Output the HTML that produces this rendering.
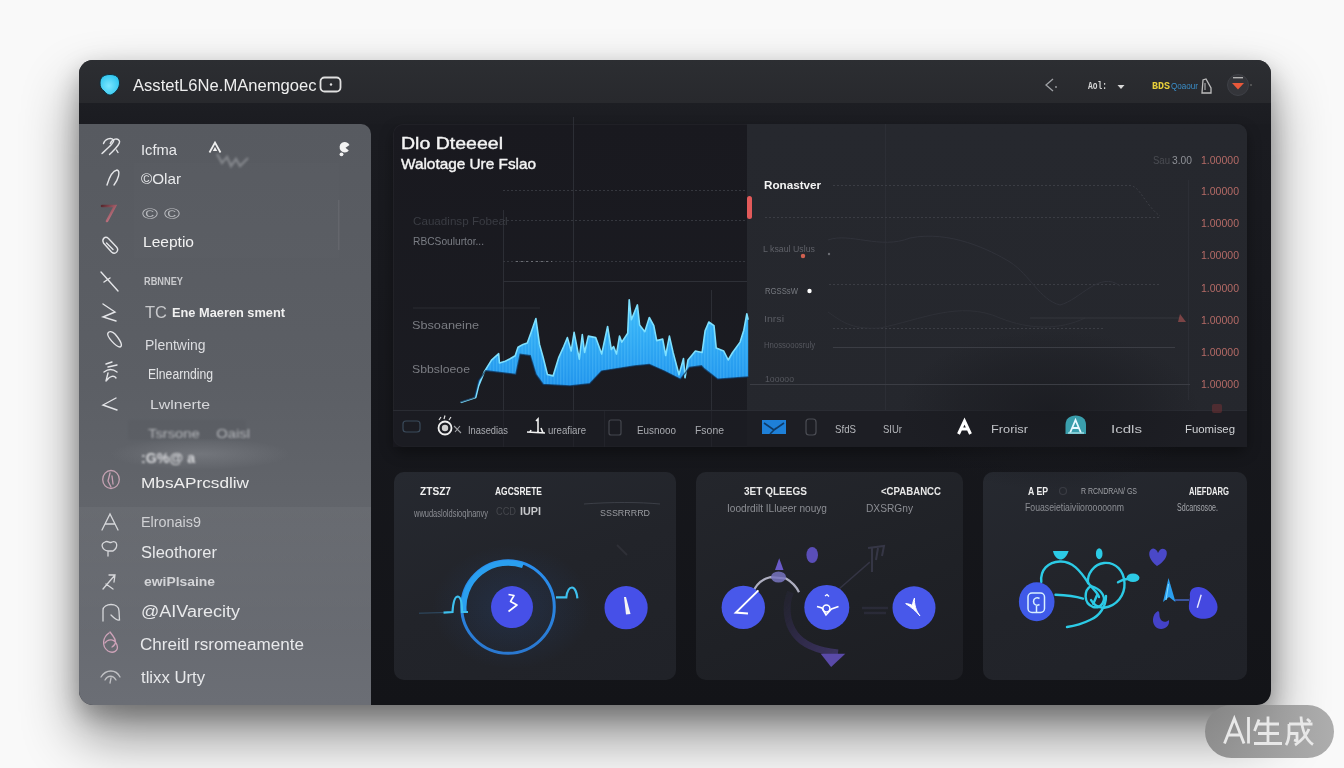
<!DOCTYPE html>
<html><head><meta charset="utf-8">
<style>
*{margin:0;padding:0;box-sizing:border-box}
html,body{width:1344px;height:768px;overflow:hidden;background:#f3f3f3;font-family:"Liberation Sans",sans-serif}
.abs{position:absolute}
#bg{left:0;top:0;width:1344px;height:768px;background:#f9f9f9}
#shadow{left:79px;top:60px;width:1192px;height:645px;border-radius:14px;box-shadow:0 30px 55px rgba(0,0,0,.45),0 10px 25px rgba(0,0,0,.25)}
#win{left:79px;top:60px;width:1192px;height:645px;border-radius:14px;background:linear-gradient(180deg,#1b1c21 0%,#17181d 45%,#131418 100%);overflow:hidden}
#title{left:0;top:0;width:1192px;height:43px;background:linear-gradient(180deg,#2c2e32,#28292d)}
#strip{left:0;top:43px;width:1192px;height:21px;background:linear-gradient(180deg,#1d1e23,#1b1c21)}
#side{left:0;top:64px;width:292px;height:581px;background:linear-gradient(180deg,#575a60 0%,#5c5f65 45%,#62656b 66%,#6b6e75 100%);border-top-right-radius:10px}
#side2{left:0;top:447px;width:292px;height:134px;background:linear-gradient(180deg,rgba(255,255,255,.04),rgba(255,255,255,0))}
.t{position:absolute;white-space:nowrap;transform-origin:0 50%}
#chart{left:314px;top:64px;width:854px;height:323px;border-radius:10px;box-shadow:0 6px 14px rgba(0,0,0,.35),inset 0 0 0 1px rgba(255,255,255,.03);background:linear-gradient(180deg,#19191f,#1b1c22);overflow:hidden}
#rpanel{left:668px;top:64px;width:500px;height:323px;border-radius:0 10px 10px 0;background:linear-gradient(180deg,#26282e 0%,#25272d 100%)}
.card{position:absolute;top:412px;height:208px;border-radius:10px;background:linear-gradient(160deg,#262930 0%,#22242a 50%,#202228 100%)}
#wm{left:1205px;top:705px;width:129px;height:53px;border-radius:27px;background:linear-gradient(90deg,rgba(135,135,135,.9),rgba(160,160,160,.85))}
</style></head><body>
<div id="bg" class="abs"></div>
<div id="shadow" class="abs"></div>
<div id="win" class="abs">
  <div id="title" class="abs"></div>
  <div id="strip" class="abs"></div>
  <div id="side" class="abs"></div>
  <div id="side2" class="abs"></div>
  <div id="chart" class="abs"></div>
  <div id="rpanel" class="abs"></div>
  <div class="card" style="left:315px;width:282px"></div>
  <div class="card" style="left:617px;width:267px;background:linear-gradient(160deg,#24262c 0%,#1f2126 60%,#1d1e23 100%)"></div>
  <div class="card" style="left:904px;width:264px"></div>
</div>
<svg class="abs" style="left:0;top:0" width="1344" height="768" viewBox="0 0 1344 768">
<defs>
<linearGradient id="blueg" x1="0" y1="0" x2="0" y2="1"><stop offset="0" stop-color="#3fc3ff"/><stop offset="1" stop-color="#1a8be0"/></linearGradient>
<linearGradient id="ringg" x1="0" y1="0" x2="1" y2="1"><stop offset="0" stop-color="#2aa8f0"/><stop offset="1" stop-color="#2f6fd8"/></linearGradient>
<radialGradient id="logog" cx=".45" cy=".55" r=".6"><stop offset="0" stop-color="#7ae6ff"/><stop offset="1" stop-color="#2cc4ee"/></radialGradient>
<radialGradient id="glow1" cx=".5" cy=".5" r=".5"><stop offset="0" stop-color="#2a6bd0" stop-opacity=".16"/><stop offset="1" stop-color="#2a6bd0" stop-opacity="0"/></radialGradient>
<linearGradient id="redg" x1="0" y1="0" x2="1" y2="1"><stop offset="0" stop-color="#5a2a30"/><stop offset="1" stop-color="#e08a9a"/></linearGradient>
<filter id="b1"><feGaussianBlur stdDeviation="0.5"/></filter>
<filter id="b12" x="-50%" y="-50%" width="200%" height="200%"><feGaussianBlur stdDeviation="1.3"/></filter>
<filter id="b2"><feGaussianBlur stdDeviation="1.5"/></filter>
<filter id="b6"><feGaussianBlur stdDeviation="6"/></filter>
</defs>

<!-- title bar -->
<path d="M100,83 C100,77 104,74.5 110,74.5 C116,74.5 119.5,77 119.5,83 C119.5,88 116,92.5 111,95 C108,95.5 106,93.5 104,91 C101,89 100,86.5 100,83 Z" fill="url(#logog)" stroke="#10303e" stroke-width="1"/>
<rect x="320.5" y="77.5" width="20" height="14" rx="4" fill="none" stroke="#e0e0e0" stroke-width="1.8"/>
<circle cx="331" cy="84.5" r="1.2" fill="#e0e0e0"/>
<path d="M1053,79 L1046,85 L1053,91" fill="none" stroke="#a0a2a6" stroke-width="1.3"/>
<circle cx="1056" cy="87" r="0.9" fill="#a0a2a6"/>
<path d="M1117.5,85 L1124.5,85 L1121,89 Z" fill="#d8d8d8"/>
<path d="M1202,93 L1203,80 L1206,79 L1211,88 L1211,93 Z" fill="none" stroke="#bdbdbd" stroke-width="1.3"/>
<path d="M1205,83 L1205,90" stroke="#bdbdbd" stroke-width="1"/>
<circle cx="1238" cy="85" r="10.5" fill="#34353a"/>
<circle cx="1238" cy="85" r="10.5" fill="none" stroke="#3e4046" stroke-width="1"/>
<path d="M1232,83 L1244,83 L1238,89.5 Z" fill="#e8583a"/>
<rect x="1233" y="77" width="10" height="1.4" fill="#b0b0b0"/>
<circle cx="1251" cy="85" r="0.9" fill="#666"/>
<!-- sidebar icons -->
<rect x="134" y="163" width="205" height="95" fill="#ffffff" opacity=".012"/>
<defs><radialGradient id="litblob" cx=".5" cy=".5" r=".5"><stop offset="0" stop-color="#8a8d93" stop-opacity=".45"/><stop offset="1" stop-color="#8a8d93" stop-opacity="0"/></radialGradient></defs>
<rect x="128" y="420" width="118" height="20" rx="4" fill="#4a4d53" opacity=".13" filter="url(#b12)"/>
<ellipse cx="200" cy="454" rx="90" ry="16" fill="url(#litblob)"/>
<g fill="none" stroke="#e4e5e8" stroke-width="1.4" stroke-linecap="round">
<path d="M103.5,143.5 C105,139 111,137 113.5,140 C115,142 108,148 102,153.5"/><path d="M110.3,143.5 C112,139 118,137 119.6,141.5 C120,145 114,150 109.5,154.5 M116.5,150 L118,152.5"/>
<path d="M107,185 C109,178 112,171 117,170 C121,171 118,180 114,185"/>
<path d="M103.5,243 C101.5,239 105,235.5 108.5,238.5 L116.5,247 C119.5,250.5 115.5,255.5 111.5,252 Z M106.5,243 L113,249.5"/>
<path d="M101,272 L118,291 M104,282 L110,278"/>
<path d="M103,304 L115,312 L103,317 L116,321"/>
<path d="M108,333 C106,336 116,347 120,347 C123,346 121,341 115,334 C112,331 109,331 108,333 Z"/>
<path d="M106,364 L112,362 M108,367 L117,365 M104,372 C108,369 113,369 117,372 M107,380 C110,376 114,375 116,378 M108,373 L106,381"/>
<path d="M116,398 L103,405 L117,410"/>
</g>
<path d="M102,206 L115,206 L107,221" fill="none" stroke="url(#redg)" stroke-width="2.6" stroke-linecap="round"/>
<g fill="none" stroke="#d6d7da" stroke-width="1.3" stroke-linecap="round">
<ellipse cx="111" cy="479.5" rx="8.3" ry="9" stroke="#c4a2b2"/>
<path d="M110,473 L108,481 L111,487 M112,476 L113,484" stroke="#c8a0b4"/>
<path d="M102,530 L110,514 L118,530 M105,524 L115,524"/>
<path d="M108,556 L108,551 C102,550 100,544 105,542 C108,540 110,544 112,542 C117,540 119,547 113,551 L108,551"/>
<path d="M103,589 L115,575 M109,575 L115,575 L114,582 M106,584 L113,589"/>
<path d="M103,621 L103,610 C103,603 119,602 119,611 L119.5,620 C117,621 114,618 111,615"/>
<path d="M109,633 C103,637 101,646 108,651 C113,654 119,651 117,645 C115,639 108,638 105,643 M110,632 L113,636 C116,640 117,644 112,647" stroke="#cda2b8"/>
<path d="M101,677 C106,669 116,669 120,677 M105,680 C108,675 113,675 116,680 M110,683 L111,678" stroke="#c0c1c4"/>
</g>
<g fill="none" stroke="#f0f0f0" stroke-width="1.5">
<path d="M209.5,152.5 L215,142.5 L220.5,152.5" stroke-width="1.8"/><path d="M212.8,151 L215,147 L217.2,151 Z" fill="#f0f0f0" stroke="none"/>
</g>
<path d="M217,154 L222,163 L227,157 L231,166 L236,159 L240,166 L248,158" fill="none" stroke="#c0c2c6" stroke-width="2.4" opacity=".4" filter="url(#b12)"/>
<path d="M349.5,145 A5.2,5.2 0 1 0 348.8,150.5 L345.5,147.8 Z" fill="#f2f2f2"/><circle cx="341.5" cy="154.3" r="1.9" fill="#f2f2f2"/>
<rect x="338" y="200" width="1.5" height="50" fill="#6a6d73" opacity=".6"/>

<!-- chart panel grid -->
<g stroke="#2c2e35" stroke-width="1">
<line x1="573.5" y1="117" x2="573.5" y2="447"/>
<line x1="604.5" y1="411" x2="604.5" y2="447"/>
<line x1="711.5" y1="290" x2="711.5" y2="447"/>
<line x1="503.5" y1="210" x2="503.5" y2="447"/>
<line x1="885.5" y1="124" x2="885.5" y2="447"/>
<line x1="1188.5" y1="180" x2="1188.5" y2="400"/>
</g>
<g stroke="#35373e" stroke-width="1" stroke-dasharray="2 2">
<line x1="503" y1="190.5" x2="747" y2="190.5"/>
<line x1="503" y1="220.5" x2="747" y2="220.5"/>
<line x1="503" y1="261.5" x2="747" y2="261.5"/>
</g>
<line x1="503" y1="281.5" x2="747" y2="281.5" stroke="#2e3037" stroke-width="1"/>
<line x1="516" y1="261.5" x2="552" y2="261.5" stroke="#6a6c72" stroke-width="1" stroke-dasharray="2 3"/>
<line x1="413" y1="308" x2="540" y2="308" stroke="#2a2c33" stroke-width="1"/>
<line x1="393" y1="410.5" x2="1247" y2="410.5" stroke="#2a2c33" stroke-width="1"/>
<rect x="393" y="411" width="354" height="36" fill="#1c1d23" opacity=".6"/>
<rect x="747" y="411" width="500" height="36" fill="#1d1e24"/>
<rect x="747" y="196" width="5" height="23" rx="2.5" fill="#e25a5a"/>

<!-- blue area chart -->
<defs>
<pattern id="stripes" width="3.2" height="10" patternUnits="userSpaceOnUse"><rect x="0" y="0" width="1.2" height="10" fill="#7fd8ff" opacity=".22"/></pattern>
<linearGradient id="blueg2" x1="0" y1="300" x2="0" y2="390" gradientUnits="userSpaceOnUse"><stop offset="0" stop-color="#3cbcfa"/><stop offset="1" stop-color="#1f92ec"/></linearGradient>
</defs>
<polygon points="460.7,402.4 475.8,397.4 478.6,385.9 484.4,371.6 491.5,360.1 498.7,353.7 499.4,363 504.4,361.6 510.1,358.7 515.2,355.8 518,347.3 523,344.4 527.3,343 530.9,332.9 535.9,318.6 539.5,344.4 543.1,357.3 547.4,374.5 553.1,375.9 558.8,357.3 563.7,346.5 567.4,337.6 571.2,351 574.1,332.4 579.3,359.2 582.3,334.6 584.6,352.5 588.3,336.1 595.7,337.6 601.7,354 607.6,326.5 611.3,349.5 613.6,346.5 616.5,354 619.5,336.1 621.8,342.1 627.7,333.2 629.2,299.7 631.4,319.8 637.4,304.9 639.6,325 644.8,331.7 649.3,317.5 653.8,325.7 656.7,340.6 662.7,339.1 665.7,355.5 669.4,336.1 673.1,352.5 679,374.8 683.5,358.5 685,377.8 688,360 695.4,351 702.1,352.5 705.1,330.9 708.8,322 714,325.7 716.2,348 723.7,351 728.2,360 732.6,352.5 740.1,342.1 743.8,330.2 746.8,313.8 748.2,319.8 748.2,377 717.7,379.3 704.3,368.9 701.4,365.9 689.5,367.4 680.5,379.3 664.2,371.1 649.3,364.4 634.4,365.9 601.7,371.1 589.8,383.8 570,385.9 543.1,384.5 535.9,374.5 530.2,355.8 520.2,354.4 515.9,374.5 485.8,370.9 478.6,380.2 474.3,397.4 460.7,401.7" fill="url(#blueg2)"/>
<polygon points="460.7,402.4 475.8,397.4 478.6,385.9 484.4,371.6 491.5,360.1 498.7,353.7 499.4,363 504.4,361.6 510.1,358.7 515.2,355.8 518,347.3 523,344.4 527.3,343 530.9,332.9 535.9,318.6 539.5,344.4 543.1,357.3 547.4,374.5 553.1,375.9 558.8,357.3 563.7,346.5 567.4,337.6 571.2,351 574.1,332.4 579.3,359.2 582.3,334.6 584.6,352.5 588.3,336.1 595.7,337.6 601.7,354 607.6,326.5 611.3,349.5 613.6,346.5 616.5,354 619.5,336.1 621.8,342.1 627.7,333.2 629.2,299.7 631.4,319.8 637.4,304.9 639.6,325 644.8,331.7 649.3,317.5 653.8,325.7 656.7,340.6 662.7,339.1 665.7,355.5 669.4,336.1 673.1,352.5 679,374.8 683.5,358.5 685,377.8 688,360 695.4,351 702.1,352.5 705.1,330.9 708.8,322 714,325.7 716.2,348 723.7,351 728.2,360 732.6,352.5 740.1,342.1 743.8,330.2 746.8,313.8 748.2,319.8 748.2,377 717.7,379.3 704.3,368.9 701.4,365.9 689.5,367.4 680.5,379.3 664.2,371.1 649.3,364.4 634.4,365.9 601.7,371.1 589.8,383.8 570,385.9 543.1,384.5 535.9,374.5 530.2,355.8 520.2,354.4 515.9,374.5 485.8,370.9 478.6,380.2 474.3,397.4 460.7,401.7" fill="url(#stripes)"/>
<polyline points="460.7,402.4 475.8,397.4 478.6,385.9 484.4,371.6 491.5,360.1 498.7,353.7 499.4,363 504.4,361.6 510.1,358.7 515.2,355.8 518,347.3 523,344.4 527.3,343 530.9,332.9 535.9,318.6 539.5,344.4 543.1,357.3 547.4,374.5 553.1,375.9 558.8,357.3 563.7,346.5 567.4,337.6 571.2,351 574.1,332.4 579.3,359.2 582.3,334.6 584.6,352.5 588.3,336.1 595.7,337.6 601.7,354 607.6,326.5 611.3,349.5 613.6,346.5 616.5,354 619.5,336.1 621.8,342.1 627.7,333.2 629.2,299.7 631.4,319.8 637.4,304.9 639.6,325 644.8,331.7 649.3,317.5 653.8,325.7 656.7,340.6 662.7,339.1 665.7,355.5 669.4,336.1 673.1,352.5 679,374.8 683.5,358.5 685,377.8 688,360 695.4,351 702.1,352.5 705.1,330.9 708.8,322 714,325.7 716.2,348 723.7,351 728.2,360 732.6,352.5 740.1,342.1 743.8,330.2 746.8,313.8 748.2,319.8" fill="none" stroke="#7ee0ff" stroke-width="1.6" stroke-linejoin="round"/>
<polyline points="748.2,377 717.7,379.3 704.3,368.9 701.4,365.9 689.5,367.4 680.5,379.3 664.2,371.1 649.3,364.4 634.4,365.9 601.7,371.1 589.8,383.8 570,385.9 543.1,384.5 535.9,374.5 530.2,355.8 520.2,354.4 515.9,374.5 485.8,370.9 478.6,380.2 474.3,397.4 460.7,401.7" fill="none" stroke="#0f2a48" stroke-width="1.5" opacity=".7"/>
<!-- right panel lines -->
<defs><radialGradient id="darkblob" cx=".5" cy=".5" r=".5"><stop offset="0" stop-color="#18191e" stop-opacity=".7"/><stop offset=".6" stop-color="#18191e" stop-opacity=".35"/><stop offset="1" stop-color="#18191e" stop-opacity="0"/></radialGradient></defs>
<ellipse cx="1050" cy="410" rx="150" ry="80" fill="url(#darkblob)"/>
<g stroke="#3b3d44" stroke-width="1" fill="none">
<path d="M833,185.5 L1130,185.5 C1140,186 1145,205 1160,216" stroke-dasharray="2 2"/>
<line x1="765" y1="217.5" x2="1160" y2="217.5" stroke-dasharray="2 2"/>
<line x1="829" y1="284.5" x2="1160" y2="284.5" stroke-dasharray="2 2"/>
<line x1="833" y1="328.5" x2="1104" y2="328.5" stroke-dasharray="2 2"/>
<line x1="833" y1="347.5" x2="1175" y2="347.5"/>
<line x1="750" y1="384.5" x2="1190" y2="384.5"/>
<path d="M828,240 C850,232 880,250 910,238 C950,230 990,250 1010,262 C1030,275 1040,300 1060,305 C1080,300 1100,270 1120,286" stroke="#30323a"/>
<path d="M828,312 C840,320 850,330 880,328 C920,320 960,300 1000,318 C1030,330 1060,330 1085,318" stroke="#2e3037"/>
<line x1="1030" y1="318" x2="1180" y2="318" stroke="#34363d"/>
</g>
<circle cx="803" cy="256" r="2.2" fill="#d06050"/>
<circle cx="829" cy="254" r="1.2" fill="#6a6c72"/>
<circle cx="809.5" cy="291" r="2.2" fill="#ffffff"/>
<path d="M1180,314 L1186,322 L1178,322 Z" fill="#a05050" opacity=".7"/>
<rect x="1212" y="404" width="10" height="9" rx="2" fill="#6a3034" opacity=".6"/>

<!-- footer icons -->
<rect x="403" y="421" width="17" height="11" rx="3" fill="none" stroke="#3a4a5a" stroke-width="1.2"/>
<g transform="translate(0,2)">
<circle cx="445" cy="426" r="6.5" fill="none" stroke="#f0f0f0" stroke-width="1.8"/>
<circle cx="445" cy="426" r="3.2" fill="#cfcfcf"/>
<path d="M439,418 L441,415 M444,417 L445,413.5 M449,418 L451,415" stroke="#e0e0e0" stroke-width="1.2"/>
<path d="M454,424 L461,431 M455,430 L460,424" stroke="#a0a2a6" stroke-width="1.1"/>
</g>
<path d="M536,421 L538,419 L538,433 M530,432 L531,430 M541,428 L543,433 M527,432 L545,433" stroke="#f0f0f0" stroke-width="1.6" fill="none"/>
<rect x="609" y="420" width="12" height="15" rx="2" fill="none" stroke="#45474e" stroke-width="1.2"/>
<path d="M762,420 L786,420 L786,434 L762,434 Z" fill="#1e80d8"/>
<path d="M764,423 L774,430 L784,423 M770,434 L776,428" fill="none" stroke="#0f3a66" stroke-width="1.6"/>
<rect x="806" y="419" width="10" height="16" rx="3" fill="none" stroke="#4b4d54" stroke-width="1.2"/>
<path d="M958.5,434 L964.5,421 L970.5,434 M960.5,429 L968.5,429" fill="none" stroke="#ffffff" stroke-width="3"/>
<path d="M1065.5,434 L1065.5,425 C1065.5,419 1069.5,415.5 1075.7,415.5 C1082,415.5 1086,419 1086,425 L1086,434 Z" fill="#3a9eac"/>
<path d="M1070,433 L1075.5,420 L1081,433 M1072,428 L1079,428" stroke="#e8f8ff" stroke-width="1.8" fill="none"/>
<path d="M1068,433 L1084,433" stroke="#9ad8e0" stroke-width="1.5"/>

<!-- card 1 -->
<defs>
<linearGradient id="ring2" x1="0" y1="0" x2="0" y2="1"><stop offset="0" stop-color="#2a90f0"/><stop offset="1" stop-color="#2a78d0"/></linearGradient>
</defs>
<ellipse cx="512" cy="607" rx="80" ry="62" fill="url(#glow1)"/>
<circle cx="508" cy="607" r="46.3" fill="none" stroke="url(#ring2)" stroke-width="3"/>
<path d="M464,612 A44.3,44.3 0 0 1 523,565.5" fill="none" stroke="#2a9ff0" stroke-width="5.5" stroke-linecap="butt"/>
<path d="M419,613.2 L443.5,612.6" stroke="#3a6a90" stroke-width="1" opacity=".6"/>
<path d="M443.5,612.6 L452.5,612 C453,604 454,597 457.5,596.5 C461,596.5 462,604 462,612 L468,612" fill="none" stroke="#3ec0ee" stroke-width="2.2"/>
<path d="M556,597.4 L566.3,597.4 C567,592 569,587.5 572,587.5 C575,587.5 577,593 577.4,598.4" fill="none" stroke="#3ec0ee" stroke-width="2.2"/>
<circle cx="512" cy="607.1" r="21" fill="#4650e8"/>
<path d="M508.5,594.5 L514,595.5 L510.5,601.5 L517,605 L508.5,611.5" fill="none" stroke="#ffffff" stroke-width="1.6" stroke-linejoin="round"/>
<circle cx="626.1" cy="607.7" r="21.6" fill="#4650e8"/>
<path d="M624,597 L626,597 L630.5,614 L626,614.5 Z" fill="#f4f4f4"/>
<line x1="617" y1="545" x2="627" y2="555" stroke="#3a3c44" stroke-width="2" opacity=".5" filter="url(#b1)"/>
<path d="M584,504 C610,502 640,502 660,504" stroke="#3c3f47" stroke-width="1" fill="none"/>

<!-- card 2 -->
<defs>
<linearGradient id="swg" x1="0" y1="0" x2="1" y2="1"><stop offset="0" stop-color="#3a3260" stop-opacity=".2"/><stop offset=".5" stop-color="#4a3a80" stop-opacity=".55"/><stop offset="1" stop-color="#5a48a0" stop-opacity=".7"/></linearGradient>
</defs>
<path d="M790.5,592 C785,605 786,622 795,634 C803,645 820,651 838,653" fill="none" stroke="url(#swg)" stroke-width="7" opacity=".7" filter="url(#b1)"/>
<path d="M820.7,653.7 L845.3,653.7 L831.1,667 Z" fill="#5a4aa8"/>
<ellipse cx="812.2" cy="555" rx="5.8" ry="8" fill="#5a4eb8"/>
<path d="M779.2,558.3 L775,570 L783.5,570 Z" fill="#6a5ac8"/>
<path d="M752.8,592.3 C756,585 762,579 770,577.2 L786,578.5 C792,582 797,588 799,592.3" fill="none" stroke="#c8c8dc" stroke-width="2.2" opacity=".85"/>
<ellipse cx="778.5" cy="577" rx="7.5" ry="5.5" fill="#7874c0" opacity=".85"/>
<line x1="839.6" y1="588.5" x2="869.8" y2="562.1" stroke="#3a3a4c" stroke-width="1.4" opacity=".8"/>
<path d="M868,548 L884,546 L882,556 M872,548 L872,572 M878,548 L876,560" fill="none" stroke="#45455a" stroke-width="2" opacity=".6"/>
<path d="M862,608 L888,608 M864,613 L886,613" stroke="#35354a" stroke-width="2.5" opacity=".5"/>
<circle cx="743.3" cy="607.4" r="21.7" fill="#4858ea"/>
<path d="M758.4,590.4 L735.8,612.6 L748,613.5" fill="none" stroke="#ffffff" stroke-width="2"/>
<circle cx="826.8" cy="607.4" r="22.5" fill="#4858ea"/>
<path d="M817,606.5 L822,608 L826,615 L831.5,609 L838.5,606.5" fill="none" stroke="#ffffff" stroke-width="1.6"/>
<circle cx="826.4" cy="608.6" r="3.5" fill="none" stroke="#ffffff" stroke-width="1.5"/>
<path d="M825,596 L827,594.5 L829,596.5" fill="none" stroke="#ffffff" stroke-width="1.3"/>
<circle cx="914" cy="607.8" r="21.5" fill="#4858ea"/>
<path d="M905.7,603.6 C909,604 911,604.5 912.3,605.5 C913,602 913.5,600 914.5,598 C914,604 916,611 920,616 C916,611 911,607 905.7,603.6 Z" fill="#ffffff" stroke="#ffffff" stroke-width="1"/>

<!-- card 3 -->
<g fill="none" stroke="#2ccbe6" stroke-width="2.4" stroke-linecap="round">
<path d="M1041.3,582 C1040,570 1048,562 1060,561.5 C1072,561 1080,570 1089,584 C1094,590 1098,593 1099,597"/>
<path d="M1088,583 C1087,574 1094,564 1104,563 C1116,562 1124,571 1124.5,583 C1125,595 1117,606 1104,607.7 C1098,608 1093,604 1091,600"/>
<path d="M1091,586 C1084,590 1083,603 1093,607 C1101,609 1108,600 1101,592 C1098,588 1094,587 1091,586"/>
<path d="M1106,596 C1106,606 1100,616 1090,620 C1082,624 1074,626 1067,627"/>
<path d="M1055.5,594.7 C1066,595 1075,596 1083,598.6"/>
<path d="M1093.3,603.8 L1097.2,594.7"/>
<path d="M1118,582.3 C1122,580 1125,579 1128,579"/>
</g>
<path d="M1053,551 L1068.6,551 C1067,557 1063,559.5 1060.8,559.5 C1058,559.5 1054,557 1053,551 Z" fill="#2ccbe6"/>
<ellipse cx="1099.2" cy="553.7" rx="3.3" ry="5.5" fill="#2ccbe6"/>
<ellipse cx="1133" cy="577.8" rx="6.5" ry="4.3" fill="#2ccbe6"/>
<ellipse cx="1036.7" cy="601.8" rx="17.8" ry="19.5" fill="#3f5ae8"/>
<rect x="1028" y="593" width="16.5" height="19.5" rx="4" fill="none" stroke="#d8f0ff" stroke-width="1.5"/>
<path d="M1039.5,598.5 C1037,597 1033.5,598 1033.5,601.5 C1033.5,605 1037,606 1039.5,604.5 M1036.5,606 L1036.5,612" fill="none" stroke="#d8f0ff" stroke-width="1.5"/>
<path d="M1157,566 C1150,561 1147,553 1151,549.5 C1154,547 1157,550 1158,553 C1160,548 1164,547.5 1166.5,551 C1168,556 1164,562 1157,566 Z" fill="#4a48c8"/>
<path d="M1163,602 L1168.5,578 L1175.5,602 L1169,597 Z" fill="#2a9ff0"/>
<path d="M1168.5,584 L1166,600" stroke="#7ad8ff" stroke-width="1.2"/>
<path d="M1175,600 L1189,600" stroke="#4a70d8" stroke-width="1.3"/>
<path d="M1190,597 C1189,590 1193,586.5 1199,587 C1206,587.5 1212,593 1216,601 C1220,609 1216,617 1207,618.5 C1200,620 1191,617 1189,609 C1188.5,605 1189.5,600 1190,597 Z" fill="#4448e0"/>
<path d="M1201.2,594.7 L1197.3,607.7" stroke="#e8e8ff" stroke-width="1.4"/>
<path d="M1158,611 C1152,614 1151,624 1157,628 C1163,631 1170,627 1169,620 C1166,623 1161,622 1160,618 C1159,615 1160,612 1158,611 Z" fill="#4442c8"/>
<line x1="1071" y1="491" x2="1071" y2="491" stroke="#555" />
<circle cx="1063" cy="491" r="3.5" fill="none" stroke="#3a3c43" stroke-width="1.2"/>

</svg>
<div class="t" style="left:132.5px;top:77.3px;font-size:17px;line-height:17px;color:#eeeeee;font-weight:400;transform:scaleX(0.976);font-family:'Liberation Sans';">AsstetL6Ne.MAnemgoec</div>
<div class="t" style="left:1088px;top:81.5px;font-size:10px;line-height:10px;color:#d8d8d8;font-weight:700;transform:scaleX(0.791);font-family:'Liberation Mono';">Aol:</div>
<div class="t" style="left:1152px;top:81.5px;font-size:10px;line-height:10px;color:#e8cf3a;font-weight:700;transform:scaleX(0.999);font-family:'Liberation Mono';">BDS</div>
<div class="t" style="left:1171px;top:82.0px;font-size:9px;line-height:9px;color:#3a8ec8;font-weight:400;transform:scaleX(0.899);font-family:'Liberation Sans';">Qoaour</div>
<div class="t" style="left:141px;top:142.2px;font-size:15px;line-height:15px;color:#e9eaec;font-weight:400;transform:scaleX(0.981);font-family:'Liberation Sans';">Icfma</div>
<div class="t" style="left:141px;top:171.2px;font-size:15px;line-height:15px;color:#e9eaec;font-weight:400;transform:scaleX(1.015);font-family:'Liberation Sans';">&copy;Olar</div>
<div class="t" style="left:142px;top:206.7px;font-size:14px;line-height:14px;color:#b9bbbf;font-weight:400;transform:scaleX(1.549);font-family:'Liberation Sans';">&copy; &copy;</div>
<div class="t" style="left:143px;top:234.2px;font-size:15px;line-height:15px;color:#f2f2f2;font-weight:400;transform:scaleX(1.036);font-family:'Liberation Sans';">Leeptio</div>
<div class="t" style="left:143.7px;top:276.1px;font-size:11px;line-height:11px;color:#c9cacd;font-weight:700;transform:scaleX(0.840);font-family:'Liberation Sans';">RBNNEY</div>
<div class="t" style="left:145px;top:304.4px;font-size:17px;line-height:17px;color:#c8c9cc;font-weight:400;transform:scaleX(0.970);font-family:'Liberation Sans';">TC</div>
<div class="t" style="left:172px;top:306.1px;font-size:13px;line-height:13px;color:#f0f0f0;font-weight:700;transform:scaleX(0.984);font-family:'Liberation Sans';">Ene Maeren sment</div>
<div class="t" style="left:145px;top:337.2px;font-size:15px;line-height:15px;color:#dcdde0;font-weight:400;transform:scaleX(0.932);font-family:'Liberation Sans';">Plentwing</div>
<div class="t" style="left:148px;top:367.2px;font-size:14px;line-height:14px;color:#e3e4e6;font-weight:400;transform:scaleX(0.870);font-family:'Liberation Sans';">Elnearnding</div>
<div class="t" style="left:150px;top:398.1px;font-size:13px;line-height:13px;color:#d6d7da;font-weight:400;transform:scaleX(1.221);font-family:'Liberation Sans';">Lwlnerte</div>
<div class="t" style="left:148px;top:427.6px;font-size:12px;line-height:12px;color:#b4b6ba;font-weight:400;transform:scaleX(1.233);font-family:'Liberation Sans';filter:blur(1px)">Tsrsone&nbsp;&nbsp;&nbsp;&nbsp;Oaisl</div>
<div class="t" style="left:141px;top:450.7px;font-size:14px;line-height:14px;color:#d8d9dc;font-weight:700;transform:scaleX(1.013);font-family:'Liberation Sans';filter:blur(1.3px)">:G%@ a</div>
<div class="t" style="left:141px;top:475.2px;font-size:15px;line-height:15px;color:#eeeeee;font-weight:400;transform:scaleX(1.147);font-family:'Liberation Sans';">MbsAPrcsdliw</div>
<div class="t" style="left:141px;top:514.7px;font-size:14px;line-height:14px;color:#d0d1d4;font-weight:400;transform:scaleX(1.028);font-family:'Liberation Sans';">Elronais9</div>
<div class="t" style="left:141px;top:545.3px;font-size:16px;line-height:16px;color:#e8e9eb;font-weight:400;transform:scaleX(1.029);font-family:'Liberation Sans';">Sleothorer</div>
<div class="t" style="left:144px;top:575.1px;font-size:13px;line-height:13px;color:#d3d4d7;font-weight:700;transform:scaleX(1.068);font-family:'Liberation Sans';">ewiPlsaine</div>
<div class="t" style="left:141px;top:604.3px;font-size:16px;line-height:16px;color:#e8e9eb;font-weight:400;transform:scaleX(1.125);font-family:'Liberation Sans';">@AIVarecity</div>
<div class="t" style="left:140px;top:637.3px;font-size:16px;line-height:16px;color:#e8e9eb;font-weight:400;transform:scaleX(1.066);font-family:'Liberation Sans';">Chreitl rsromeamente</div>
<div class="t" style="left:141px;top:669.8px;font-size:16px;line-height:16px;color:#e8e9eb;font-weight:400;transform:scaleX(1.044);font-family:'Liberation Sans';">tlixx Urty</div>
<div class="t" style="left:401px;top:135.8px;font-size:16px;line-height:16px;color:#f4f4f4;font-weight:400;transform:scaleX(1.220);font-family:'Liberation Sans';-webkit-text-stroke:0.4px #f4f4f4">Dlo Dteeeel</div>
<div class="t" style="left:401px;top:155.8px;font-size:15px;line-height:15px;color:#f4f4f4;font-weight:400;transform:scaleX(1.023);font-family:'Liberation Sans';-webkit-text-stroke:0.4px #f4f4f4">Walotage Ure Fslao</div>
<div class="t" style="left:412.5px;top:216.1px;font-size:11px;line-height:11px;color:#3a3c43;font-weight:400;transform:scaleX(1.058);font-family:'Liberation Sans';">Cauadinsp Fobeal</div>
<div class="t" style="left:412.5px;top:236.1px;font-size:11px;line-height:11px;color:#7a7d84;font-weight:400;transform:scaleX(0.929);font-family:'Liberation Sans';">RBCSoulurtor...</div>
<div class="t" style="left:412px;top:320.1px;font-size:11px;line-height:11px;color:#7a7c82;font-weight:400;transform:scaleX(1.153);font-family:'Liberation Sans';">Sbsoaneine</div>
<div class="t" style="left:412px;top:364.1px;font-size:11px;line-height:11px;color:#7a7c82;font-weight:400;transform:scaleX(1.115);font-family:'Liberation Sans';">Sbbsloeoe</div>
<div class="t" style="left:468px;top:425.1px;font-size:11px;line-height:11px;color:#a9abb0;font-weight:400;transform:scaleX(0.849);font-family:'Liberation Sans';">Inasedias</div>
<div class="t" style="left:548px;top:425.1px;font-size:11px;line-height:11px;color:#a9abb0;font-weight:400;transform:scaleX(0.875);font-family:'Liberation Sans';">ureafiare</div>
<div class="t" style="left:637px;top:425.1px;font-size:11px;line-height:11px;color:#a9abb0;font-weight:400;transform:scaleX(0.898);font-family:'Liberation Sans';">Eusnooo</div>
<div class="t" style="left:695px;top:425.1px;font-size:11px;line-height:11px;color:#a9abb0;font-weight:400;transform:scaleX(0.948);font-family:'Liberation Sans';">Fsone</div>
<div class="t" style="left:764px;top:180.1px;font-size:11px;line-height:11px;color:#f4f4f4;font-weight:700;transform:scaleX(1.060);font-family:'Liberation Sans';">Ronastver</div>
<div class="t" style="left:763px;top:244.9px;font-size:9px;line-height:9px;color:#5f6168;font-weight:400;transform:scaleX(0.978);font-family:'Liberation Sans';">L ksaul Uslus</div>
<div class="t" style="left:765px;top:286.9px;font-size:9px;line-height:9px;color:#777a80;font-weight:400;transform:scaleX(0.857);font-family:'Liberation Sans';">RGSSsW</div>
<div class="t" style="left:764px;top:314.9px;font-size:9px;line-height:9px;color:#5a5c63;font-weight:400;transform:scaleX(1.175);font-family:'Liberation Sans';">Inrsi</div>
<div class="t" style="left:764px;top:340.9px;font-size:9px;line-height:9px;color:#55575e;font-weight:400;transform:scaleX(0.857);font-family:'Liberation Sans';">Hnossooosruly</div>
<div class="t" style="left:765px;top:374.9px;font-size:9px;line-height:9px;color:#55575e;font-weight:400;transform:scaleX(0.965);font-family:'Liberation Sans';">1ooooo</div>
<div class="t" style="left:1153px;top:155.5px;font-size:10px;line-height:10px;color:#4a4c52;font-weight:400;transform:scaleX(0.955);font-family:'Liberation Sans';">Sau</div>
<div class="t" style="left:1172px;top:155.1px;font-size:11px;line-height:11px;color:#8e9096;font-weight:400;transform:scaleX(0.934);font-family:'Liberation Sans';">3.00</div>
<div class="t" style="left:1201px;top:155.5px;font-size:10px;line-height:10px;color:#b46a66;font-weight:400;transform:scaleX(1.051);font-family:'Liberation Sans';">1.00000</div>
<div class="t" style="left:1201px;top:186.5px;font-size:10px;line-height:10px;color:#b46a66;font-weight:400;transform:scaleX(1.051);font-family:'Liberation Sans';">1.00000</div>
<div class="t" style="left:1201px;top:218.5px;font-size:10px;line-height:10px;color:#b46a66;font-weight:400;transform:scaleX(1.051);font-family:'Liberation Sans';">1.00000</div>
<div class="t" style="left:1201px;top:250.5px;font-size:10px;line-height:10px;color:#b46a66;font-weight:400;transform:scaleX(1.051);font-family:'Liberation Sans';">1.00000</div>
<div class="t" style="left:1201px;top:283.5px;font-size:10px;line-height:10px;color:#b46a66;font-weight:400;transform:scaleX(1.051);font-family:'Liberation Sans';">1.00000</div>
<div class="t" style="left:1201px;top:315.5px;font-size:10px;line-height:10px;color:#b46a66;font-weight:400;transform:scaleX(1.051);font-family:'Liberation Sans';">1.00000</div>
<div class="t" style="left:1201px;top:347.5px;font-size:10px;line-height:10px;color:#b46a66;font-weight:400;transform:scaleX(1.051);font-family:'Liberation Sans';">1.00000</div>
<div class="t" style="left:1201px;top:379.5px;font-size:10px;line-height:10px;color:#b46a66;font-weight:400;transform:scaleX(1.051);font-family:'Liberation Sans';">1.00000</div>
<div class="t" style="left:835px;top:424.1px;font-size:11px;line-height:11px;color:#b5b7bb;font-weight:400;transform:scaleX(0.880);font-family:'Liberation Sans';">SfdS</div>
<div class="t" style="left:883px;top:424.1px;font-size:11px;line-height:11px;color:#b5b7bb;font-weight:400;transform:scaleX(0.864);font-family:'Liberation Sans';">SIUr</div>
<div class="t" style="left:991px;top:424.1px;font-size:11px;line-height:11px;color:#c0c2c6;font-weight:400;transform:scaleX(1.164);font-family:'Liberation Sans';">Frorisr</div>
<div class="t" style="left:1111px;top:424.1px;font-size:11px;line-height:11px;color:#c0c2c6;font-weight:400;transform:scaleX(1.370);font-family:'Liberation Sans';">Icdls</div>
<div class="t" style="left:1185px;top:424.1px;font-size:11px;line-height:11px;color:#d0d2d5;font-weight:400;transform:scaleX(1.035);font-family:'Liberation Sans';">Fuomiseg</div>
<div class="t" style="left:420px;top:486.5px;font-size:10px;line-height:10px;color:#f0f0f0;font-weight:700;transform:scaleX(1.014);font-family:'Liberation Sans';">ZTSZ7</div>
<div class="t" style="left:495px;top:486.5px;font-size:10px;line-height:10px;color:#f0f0f0;font-weight:700;transform:scaleX(0.846);font-family:'Liberation Sans';">AGCSRETE</div>
<div class="t" style="left:414px;top:509.0px;font-size:10px;line-height:10px;color:#8c8e94;font-weight:400;transform:scaleX(0.748);font-family:'Liberation Sans';">wwudasloldsioqlnanvy</div>
<div class="t" style="left:496px;top:506.5px;font-size:10px;line-height:10px;color:#45474d;font-weight:400;transform:scaleX(0.923);font-family:'Liberation Sans';">CCD</div>
<div class="t" style="left:520px;top:506.5px;font-size:10px;line-height:10px;color:#c6c7ca;font-weight:700;transform:scaleX(1.080);font-family:'Liberation Sans';">IUPI</div>
<div class="t" style="left:600px;top:508.9px;font-size:9px;line-height:9px;color:#9a9ca1;font-weight:400;transform:scaleX(0.990);font-family:'Liberation Sans';">SSSRRRRD</div>
<div class="t" style="left:744px;top:486.5px;font-size:10px;line-height:10px;color:#e8e8e8;font-weight:700;transform:scaleX(1.003);font-family:'Liberation Sans';">3ET QLEEGS</div>
<div class="t" style="left:881px;top:486.5px;font-size:10px;line-height:10px;color:#e8e8e8;font-weight:700;transform:scaleX(0.963);font-family:'Liberation Sans';">&lt;CPABANCC</div>
<div class="t" style="left:727px;top:503.5px;font-size:10px;line-height:10px;color:#8c8e94;font-weight:400;transform:scaleX(1.010);font-family:'Liberation Sans';">Ioodrdilt ILlueer nouyg</div>
<div class="t" style="left:866px;top:503.5px;font-size:10px;line-height:10px;color:#8c8e94;font-weight:400;transform:scaleX(1.019);font-family:'Liberation Sans';">DXSRGny</div>
<div class="t" style="left:1028px;top:486.5px;font-size:10px;line-height:10px;color:#eeeeee;font-weight:700;transform:scaleX(0.871);font-family:'Liberation Sans';">A EP</div>
<div class="t" style="left:1081px;top:486.9px;font-size:9px;line-height:9px;color:#9fa1a6;font-weight:400;transform:scaleX(0.778);font-family:'Liberation Sans';">R RCNDRAN/ GS</div>
<div class="t" style="left:1189px;top:486.5px;font-size:10px;line-height:10px;color:#eeeeee;font-weight:700;transform:scaleX(0.766);font-family:'Liberation Sans';">AIEFDARG</div>
<div class="t" style="left:1025px;top:502.5px;font-size:10px;line-height:10px;color:#8c8e94;font-weight:400;transform:scaleX(0.869);font-family:'Liberation Sans';">Fouaseietiaiviiorooooonm</div>
<div class="t" style="left:1177px;top:502.5px;font-size:10px;line-height:10px;color:#a4a6ab;font-weight:400;transform:scaleX(0.709);font-family:'Liberation Sans';">Sdcansosoe.</div>
<div id="wm" class="abs"></div>
<svg class="abs" style="left:0;top:0" width="1344" height="768" viewBox="0 0 1344 768">
<g fill="none" stroke="#e8e8e8" stroke-width="2.8" stroke-linecap="butt" stroke-linejoin="miter">
<path d="M1224.5,743.5 L1234.3,718.5 L1244,743.5 M1228,735 L1240.5,735"/>
<path d="M1248.5,717 L1248.5,743.5"/>
<path d="M1259,719.5 L1254.5,731 M1257.5,724 L1279,724 M1258,733.5 L1279,733.5 M1268,716.5 L1268,743 M1254,743.5 L1282,743.5"/>
<path d="M1289,724 L1289,733 C1289,738 1288,742 1286,745 M1289,724 L1312.5,724 M1289,733.5 L1297,733.5 L1297,741 L1294,740 M1301,716.5 C1302,731 1306,740 1313,744.5 M1309,729 C1306,736 1301,741 1295,745 M1307,719 L1310.5,722"/>
</g>

</svg>
</body></html>
